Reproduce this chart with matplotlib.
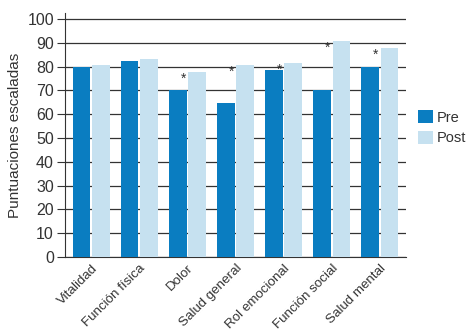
import numpy as np
import matplotlib.pyplot as plt
from matplotlib import font_manager

fams = [f.name for f in font_manager.fontManager.ttflist]
fam = 'Liberation Sans Narrow' if 'Liberation Sans Narrow' in fams else 'Liberation Sans'
plt.rcParams['font.family'] = [fam, 'DejaVu Sans']

categories = ['Vitalidad', 'Función física', 'Dolor', 'Salud general',
              'Rol emocional', 'Función social', 'Salud mental']
pre = [80, 82.5, 70, 64.8, 78.7, 70, 80]
post = [80.8, 83, 77.8, 80.8, 81.6, 90.8, 87.8]
signif = [False, False, True, True, True, True, True]
yticks = list(range(0, 101, 10))

c_pre = '#0a7dc1'
c_post = '#c6e1f0'

fig = plt.figure(figsize=(4.71, 3.35), dpi=100)
ax = fig.add_axes([0.138, 0.233, 0.724, 0.728])

x = np.arange(len(categories))
w = 0.37
ax.bar(x - w/2 - 0.02, pre, w, color=c_pre, label='Pre', zorder=3)
ax.bar(x + w/2 + 0.02, post, w, color=c_post, label='Post', zorder=3)

for i, s in enumerate(signif):
    if s:
        ax.text(x[i] - 0.08, max(pre[i], post[i]) - 3, '*', ha='center',
                va='center', fontsize=10, color='#333333', zorder=4)

ax.set_ylim(0, 102.5)
ax.set_xlim(-0.55, len(categories) - 0.45)
ax.set_yticks(yticks)
ax.yaxis.grid(True, color='#333333', linewidth=0.9, zorder=1)
ax.tick_params(axis='y', length=6, width=0.8, color='#333333', labelsize=11.5, pad=2,
               labelcolor='#333333')
ax.set_xticks(x)
ax.set_xticklabels(categories, rotation=45, ha='right', rotation_mode='anchor',
                   fontsize=9.6, color='#333333')
ax.tick_params(axis='x', length=0, pad=4)
for s in ['top', 'right']:
    ax.spines[s].set_visible(False)
ax.spines['left'].set_color('#333333')
ax.spines['bottom'].set_color('#333333')
ax.set_ylabel('Puntuaciones escaladas', fontsize=11, color='#333333', labelpad=4)

ax.legend(loc='center left', bbox_to_anchor=(1.035, 0.53), frameon=False,
          fontsize=10.5, handlelength=1.0, handleheight=1.0, handletextpad=0.3,
          labelspacing=0.4, labelcolor='#333333', borderaxespad=0, borderpad=0)

fig.savefig('out.png', dpi=100)
